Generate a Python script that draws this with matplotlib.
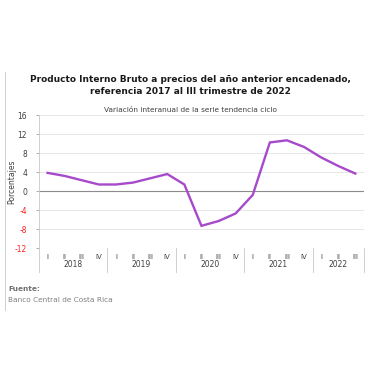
import numpy as np
import matplotlib
matplotlib.use("Agg")
from matplotlib import pyplot as plt
from matplotlib.lines import Line2D

# quarterly interannual variation, trend-cycle series
years = ["2018", "2019", "2020", "2021", "2022"]
quarters = ["I", "II", "III", "IV"]
n_quarters = [4, 4, 4, 4, 3]
values = [3.85, 3.2, 2.3, 1.4,
          1.4, 1.8, 2.7, 3.6,
          1.4, -7.3, -6.3, -4.7,
          -0.8, 10.25, 10.7, 9.3,
          7.1, 5.3, 3.7]
yticks = [-12, -8, -4, 0, 4, 8, 12, 16]

plt.rcParams['font.family'] = ['DejaVu Sans']

fig = plt.figure(figsize=(3.8, 3.8), dpi=100)
ax = fig.add_axes([0.1026, 0.347, 0.855, 0.35])

x = np.arange(len(values))
ax.plot(x, values, color="#A64ACB", lw=1.7, solid_joinstyle="miter", zorder=3)

ax.set_xlim(-0.5, len(values) - 0.5)
ax.set_ylim(-12, 16)
ax.set_yticks(yticks)
ax.set_yticklabels([str(v) for v in yticks], fontsize=5.5)
for lab, v in zip(ax.get_yticklabels(), yticks):
    lab.set_color("#FF2020" if v < 0 else "#404040")
ax.tick_params(axis="y", length=2.5, width=0.6, color="#A0A0A0", pad=6)
ax.grid(axis="y", color="#E2E2E2", lw=0.6)
ax.axhline(0, color="#8C8C8C", lw=0.8, zorder=2)

for s in ["top", "right", "bottom"]:
    ax.spines[s].set_visible(False)
ax.spines["left"].set_color("#C8C8C8")
ax.spines["left"].set_linewidth(0.6)

# category axis: quarter labels, year labels and separators
ax.set_xticks(x)
qlabels = []
for n in n_quarters:
    qlabels += quarters[:n]
ax.set_xticklabels(qlabels, fontsize=5, color="#404040")
ax.tick_params(axis="x", length=0, pad=4)

trans = ax.get_xaxis_transform()
start = -0.5
bounds = [start]
for yr, n in zip(years, n_quarters):
    mid = start + n / 2.0
    ax.text(mid, -0.125, yr, transform=trans, ha="center", va="center",
            fontsize=5.5, color="#404040")
    start += n
    bounds.append(start)
for b in bounds:
    ax.add_line(Line2D([b, b], [0, -0.18], transform=trans, color="#C8C8C8",
                       lw=0.6, clip_on=False))

ax.set_ylabel("Porcentajes", fontsize=5.5, color="#404040", labelpad=-1)

fig.text(0.5, 0.792, "Producto Interno Bruto a precios del año anterior encadenado,",
         ha="center", va="center", fontsize=6.5, fontweight="bold", color="#1A1A1A")
fig.text(0.5, 0.759, "referencia 2017 al III trimestre de 2022",
         ha="center", va="center", fontsize=6.5, fontweight="bold", color="#1A1A1A")
fig.text(0.5, 0.71, "Variación interanual de la serie tendencia ciclo",
         ha="center", va="center", fontsize=5.3, color="#404040")

fig.text(0.022, 0.24, "Fuente:", ha="left", va="center", fontsize=5.3,
         fontweight="bold", color="#707070")
fig.text(0.022, 0.21, "Banco Central de Costa Rica", ha="left", va="center",
         fontsize=5.3, color="#808080")

# left frame line
fig.add_artist(Line2D([0.014, 0.014], [0.185, 0.81], transform=fig.transFigure,
                      color="#C8C8C8", lw=0.6))

fig.savefig("out.png", dpi=100)
